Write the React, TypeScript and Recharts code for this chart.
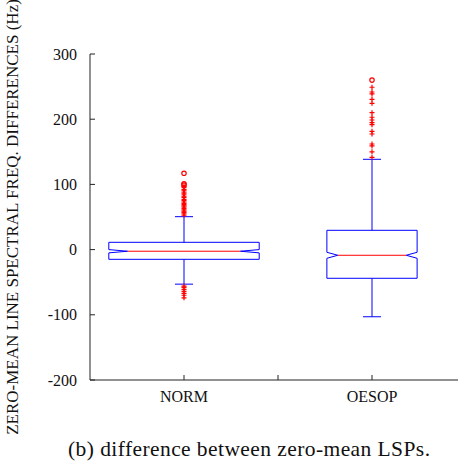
import React from "react";
import { ComposedChart, Line, Scatter, XAxis, YAxis } from "recharts";

// box statistics, one entry per category
const categories = ["NORM", "OESOP"];
const categoryPos = [1, 2];
const q1 = [-14.9, -44.0];
const median = [-2.5, -8.7];
const q3 = [11.2, 29.6];
const whiskerLo = [-53, -103];
const whiskerHi = [50.5, 138.5];
const notchHalf = [2.5, 4.6];

// outliers
const normOutliers = [
  97, 95, 92, 90, 87, 85, 82, 80, 77, 75, 73, 71, 69, 67, 65, 63, 61, 59, 57,
  55, 53, -56, -58, -61, -64, -67, -70, -74,
];
const normCircles = [117, 101, 99];
const oesopOutliers = [
  249, 241.7, 238.7, 230.5, 224.4, 210, 203, 198.8, 194.7, 191.6, 181.4, 177.3,
  162, 159, 150, 141.5,
];
const oesopCircles = [260];

const yTicks = [-200, -100, 0, 100, 200, 300];
const xTicks = [1, 1.5, 2];

// drawing sizes (in x-axis units)
const BOX_HALF = [0.4, 0.24];
const NOTCH_DEPTH = [0.1, 0.058];
const CAP_HALF = 0.048;

const BLUE = "#0000ff";
const RED = "#ff0000";
const AXIS = "#222";
const FONT = "'Liberation Serif', 'Times New Roman', serif";

function boxOutline(i: number) {
  const c = categoryPos[i];
  const hw = BOX_HALF[i];
  const nd = NOTCH_DEPTH[i];
  const nHi = median[i] + notchHalf[i];
  const nLo = median[i] - notchHalf[i];
  return [
    { x: c - hw, y: q3[i] },
    { x: c + hw, y: q3[i] },
    { x: c + hw, y: nHi },
    { x: c + hw - nd, y: median[i] },
    { x: c + hw, y: nLo },
    { x: c + hw, y: q1[i] },
    { x: c - hw, y: q1[i] },
    { x: c - hw, y: nLo },
    { x: c - hw + nd, y: median[i] },
    { x: c - hw, y: nHi },
    { x: c - hw, y: q3[i] },
  ];
}

function whiskers(i: number) {
  const c = categoryPos[i];
  return [
    { x: c, y: q3[i] },
    { x: c, y: whiskerHi[i] },
    { x: c, y: null },
    { x: c - CAP_HALF, y: whiskerHi[i] },
    { x: c + CAP_HALF, y: whiskerHi[i] },
    { x: c + CAP_HALF, y: null },
    { x: c, y: q1[i] },
    { x: c, y: whiskerLo[i] },
    { x: c, y: null },
    { x: c - CAP_HALF, y: whiskerLo[i] },
    { x: c + CAP_HALF, y: whiskerLo[i] },
  ];
}

function medianLine(i: number) {
  const c = categoryPos[i];
  const w = BOX_HALF[i] - NOTCH_DEPTH[i];
  return [
    { x: c - w, y: median[i] },
    { x: c + w, y: median[i] },
  ];
}

const crossPts = [
  ...normOutliers.map((y) => ({ x: categoryPos[0], y })),
  ...oesopOutliers.map((y) => ({ x: categoryPos[1], y })),
];
const circlePts = [
  ...normCircles.map((y) => ({ x: categoryPos[0], y })),
  ...oesopCircles.map((y) => ({ x: categoryPos[1], y })),
];

const Cross = (p: any) => (
  <path
    d={`M${p.cx - 2.5},${p.cy}h5M${p.cx},${p.cy - 2.5}v5`}
    stroke={RED}
    strokeWidth={1.2}
    fill="none"
  />
);
const Circle = (p: any) => (
  <circle cx={p.cx} cy={p.cy} r={2.2} stroke={RED} strokeWidth={1.2} fill="none" />
);

const xLabel = (v: number) => {
  const i = categoryPos.indexOf(v);
  return i >= 0 ? categories[i] : "";
};

const YLabel = (props: any) => {
  const vb = props.viewBox;
  const x = vb.x + 12;
  const y = vb.y + vb.height / 2;
  return (
    <text
      x={x}
      y={y}
      transform={`rotate(-90 ${x} ${y})`}
      textAnchor="middle"
      dominantBaseline="central"
      fontFamily={FONT}
      fontSize={17}
      fill="#111"
    >
      ZERO-MEAN LINE SPECTRAL FREQ. DIFFERENCES (Hz)
    </text>
  );
};

const tickStyle = { fontFamily: FONT, fontSize: 16, fill: "#111" };

export default function App() {
  return (
    <div
      style={{
        position: "absolute",
        left: 0,
        top: 0,
        width: 458,
        height: 465,
        overflow: "hidden",
        background: "#fff",
      }}
    >
      <ComposedChart
        width={470}
        height={465}
        margin={{ top: 54, right: 4, bottom: 55, left: 0 }}
      >
        <XAxis
          xAxisId={0}
          dataKey="x"
          type="number"
          domain={[0.5, 2.5]}
          ticks={xTicks}
          tickFormatter={xLabel}
          tickSize={-5}
          tickMargin={16}
          height={30}
          stroke={AXIS}
          tick={tickStyle}
          interval={0}
        />
        <XAxis
          xAxisId="top"
          orientation="top"
          dataKey="x"
          type="number"
          domain={[0.5, 2.5]}
          ticks={xTicks}
          tickFormatter={() => ""}
          tickSize={-5}
          height={0}
          stroke={AXIS}
        />
        <YAxis
          type="number"
          domain={[-200, 300]}
          ticks={yTicks}
          tickSize={-5}
          tickMargin={18}
          width={90}
          stroke={AXIS}
          tick={tickStyle}
          interval={0}
          label={YLabel}
        />
        {categoryPos.map((_, i) => (
          <Line
            key={`box-${i}`}
            data={boxOutline(i)}
            dataKey="y"
            type="linear"
            stroke={BLUE}
            strokeWidth={1}
            dot={false}
            activeDot={false}
            isAnimationActive={false}
          />
        ))}
        {categoryPos.map((_, i) => (
          <Line
            key={`wh-${i}`}
            data={whiskers(i)}
            dataKey="y"
            type="linear"
            stroke={BLUE}
            strokeWidth={1}
            dot={false}
            activeDot={false}
            connectNulls={false}
            isAnimationActive={false}
          />
        ))}
        {categoryPos.map((_, i) => (
          <Line
            key={`med-${i}`}
            data={medianLine(i)}
            dataKey="y"
            type="linear"
            stroke={RED}
            strokeWidth={1}
            dot={false}
            activeDot={false}
            isAnimationActive={false}
          />
        ))}
        <Scatter data={crossPts} dataKey="y" shape={Cross} isAnimationActive={false} />
        <Scatter data={circlePts} dataKey="y" shape={Circle} isAnimationActive={false} />
      </ComposedChart>
      <svg
        width={458}
        height={30}
        style={{ position: "absolute", left: 0, top: 435 }}
      >
        <text
          x={68}
          y={21}
          fontFamily={FONT}
          fontSize={21.5}
          fill="#111"
          textLength={362}
          lengthAdjust="spacing"
        >
          (b) difference between zero-mean LSPs.
        </text>
      </svg>
    </div>
  );
}
